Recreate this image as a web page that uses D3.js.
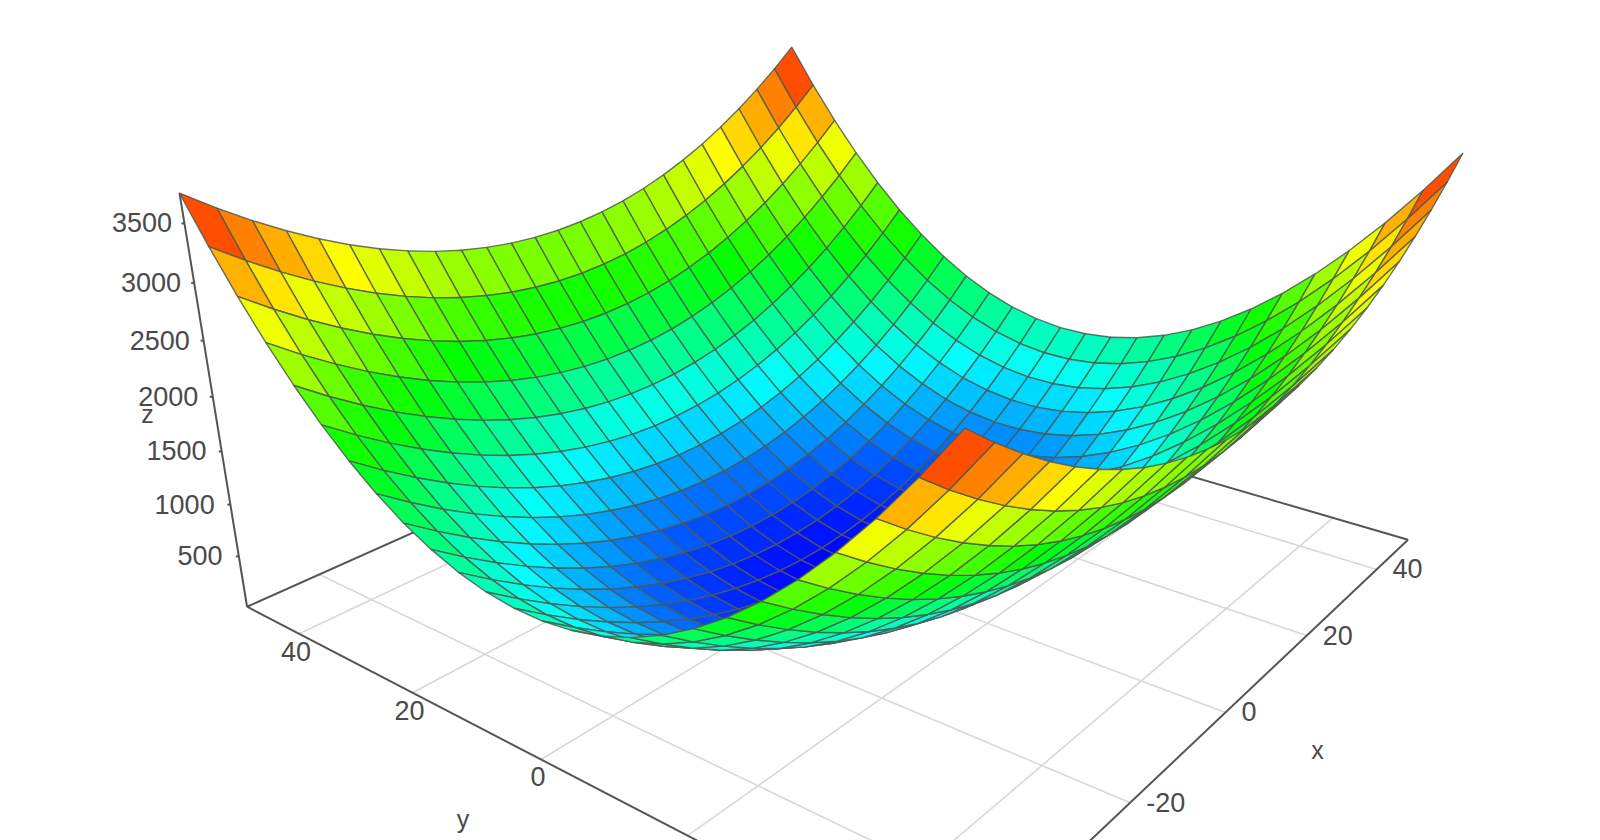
<!DOCTYPE html>
<html><head><meta charset="utf-8">
<script src="https://cdn.jsdelivr.net/npm/d3@7"></script>
<style>html,body{margin:0;padding:0;background:#fff}svg{display:block}text{font-family:"Liberation Sans",Arial,sans-serif}</style>
</head><body><div id="c"></div><script>
// grid coordinates (25 cells per side)
const gridX = [-50,-46,-42,-38,-34,-30,-26,-22,-18,-14,-10,-6,-2,2,6,10,14,18,22,26,30,34,38,42,46,50];
const gridY = gridX.slice();
// surface height: rows |x| = 2,6,...,50, columns |y| = 2,6,...,50 (the bowl is symmetric in all four quadrants)
const zQuadrant = [
[6,38,102,198,326,486,678,902,1158,1446,1766,2118,2502],
[22,54,118,214,342,502,694,918,1174,1462,1782,2134,2518],
[54,86,150,246,374,534,726,950,1206,1494,1814,2166,2550],
[102,134,198,294,422,582,774,998,1254,1542,1862,2214,2598],
[166,198,262,358,486,646,838,1062,1318,1606,1926,2278,2662],
[246,278,342,438,566,726,918,1142,1398,1686,2006,2358,2742],
[342,374,438,534,662,822,1014,1238,1494,1782,2102,2454,2838],
[454,486,550,646,774,934,1126,1350,1606,1894,2214,2566,2950],
[582,614,678,774,902,1062,1254,1478,1734,2022,2342,2694,3078],
[726,758,822,918,1046,1206,1398,1622,1878,2166,2486,2838,3222],
[886,918,982,1078,1206,1366,1558,1782,2038,2326,2646,2998,3382],
[1062,1094,1158,1254,1382,1542,1734,1958,2214,2502,2822,3174,3558],
[1254,1286,1350,1446,1574,1734,1926,2150,2406,2694,3014,3366,3750]];
const xTicks = [-40,-20,0,20,40];
const yTicks = [-40,-20,0,20,40];
const zTicks = [500,1000,1500,2000,2500,3000,3500];
const axisNames = ["x","y","z"];

const W=1600,H=840;
const svg=d3.select("#c").append("svg").attr("width",W).attr("height",H).attr("viewBox",`0 0 ${W} ${H}`);
const sx=d3.scaleLinear().domain([-50,50]).range([-1,1]);
const sy=d3.scaleLinear().domain([-50,50]).range([-1,1]);
const sz=d3.scaleLinear().domain([0,3750]).range([0,1]);
const hue=d3.scaleLinear().domain([6,3750]).range([240,0]);
// perspective camera: homogeneous rows for screen x, screen y and depth
const cam=[[403.4,-209.1,-82,850],[-54.95,-43.65,-416,571.95],[.17455,.13585,-.095,1]];
function homog(x,y,z){const u=sx(x),v=sy(y),t=sz(z);return cam.map(r=>r[0]*u+r[1]*v+r[2]*t+r[3]);}
function project(x,y,z){const h=homog(x,y,z);return [h[0]/h[2],h[1]/h[2]];}
const line=d3.line();
const ax=svg.append("g"),surf=svg.append("g"),lab=svg.append("g");
const path3=(pts,col,w)=>ax.append("path").attr("d",line(pts.map(p=>project(...p)))).attr("fill","none").attr("stroke",col).attr("stroke-width",w);

// floor grid
xTicks.forEach(x=>path3([[x,-50,0],[x,50,0]],"#d8d8d8",1.6));
yTicks.forEach(y=>path3([[-50,y,0],[50,y,0]],"#d8d8d8",1.6));
// frame
path3([[-50,50,0],[50,50,0]],"#555",2);
path3([[50,-50,0],[50,50,0]],"#555",2);
path3([[-50,-50,0],[-50,50,0]],"#555",2);
path3([[-50,-50,0],[50,-50,0]],"#555",2);
path3([[-50,50,0],[-50,50,3750]],"#555",2);

// surface
const idx=i=>i<13?12-i:i-13;
const zAt=(i,j)=>zQuadrant[idx(i)][idx(j)];
const cells=[];
for(let i=0;i<gridX.length-1;i++)for(let j=0;j<gridY.length-1;j++){
  const c=[[i,j],[i+1,j],[i+1,j+1],[i,j+1]].map(([a,b])=>[gridX[a],gridY[b],zAt(a,b)]);
  cells.push({c,avg:d3.mean(c,d=>d[2]),depth:d3.mean(c,d=>homog(...d)[2])});
}
cells.sort((a,b)=>b.depth-a.depth);
surf.selectAll("path").data(cells).join("path")
 .attr("d",d=>line(d.c.map(p=>project(...p)))+"Z")
 .attr("fill",d=>d3.hsl(hue(d.avg),1,.5).formatRgb())
 .attr("stroke","#4f5a50").attr("stroke-opacity",.85).attr("stroke-width",1.4).attr("stroke-linejoin","round");

// labels (ticks that fall below the picture's lower edge get no text)
const font=27,ink="#4a4a4a";
const txt=(x,y,s,anchor,size=font)=>lab.append("text").attr("x",x).attr("y",y).attr("text-anchor",anchor).attr("dominant-baseline","central").attr("font-size",size).attr("fill",ink).text(s);
zTicks.forEach(z=>{const p=project(-50,50,z);
  ax.append("path").attr("d",line([[p[0]-3,p[1]],p])).attr("stroke","#555").attr("stroke-width",2);
  txt(p[0]-17+z/3500*4.5,p[1],String(z),"end");});
yTicks.forEach(y=>{const p=project(-50,y,0);if(p[1]+32<H)txt(p[0]-3,p[1]+18,String(y),"middle");});
xTicks.forEach(x=>{const p=project(x,-50,0);if(p[1]+14<H)txt(p[0]+16,p[1],String(x),"start");});
const pn=project(-50,0,0);txt(pn[0]-78,pn[1]+60,axisNames[1],"middle",25);
const qn=project(0,-50,0);txt(qn[0]+92,qn[1]+38,axisNames[0],"middle",25);
const rn=project(-50,50,1900);txt(rn[0]-67,rn[1]+6,axisNames[2],"middle",25);
</script></body></html>
